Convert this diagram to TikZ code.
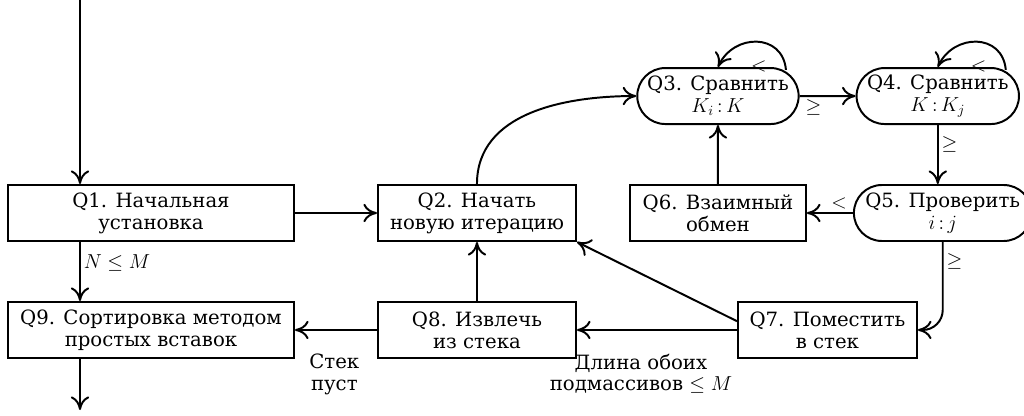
\documentclass[tikz,border=0pt]{standalone}
\usepackage{fontspec}
\setmainfont{DejaVu Serif}
\usetikzlibrary{arrows.meta, positioning, shapes.misc}

\begin{document}
\begin{tikzpicture}[
        font=\fontsize{14}{15.5}\selectfont,
        block/.style={rectangle, draw, line width=1.4pt, minimum height=1.4cm, align=center, inner sep=2pt},
        check/.style={rounded rectangle, draw, line width=1.4pt, minimum height=1.4cm, align=center, inner sep=2pt},
        lbl/.style={align=center, inner sep=2pt},
        arr/.style={-{Computer Modern Rightarrow[length=3.4mm, width=4.6mm]}, line width=1.4pt}
    ]
        \useasboundingbox (0,0) rectangle (25.6,-10.4);

        % Blocs
        \node[block, minimum width=7.15cm] (q1) at (3.775,-5.325) {Q1. Начальная\\установка};
        \node[block, minimum width=4.95cm, right=2.05cm of q1] (q2) {Q2. Начать\\новую итерацию};
        \node[block, minimum width=4.4cm, right=1.3cm of q2] (q6) {Q6. Взаимный\\обмен};
        \node[check, minimum width=4.35cm, right=1.15cm of q6] (q5) {Q5. Проверить\\$i\,{:}\,j$};
        \node[check, minimum width=4.175cm, above=1.475cm of q6] (q3) {Q3. Сравнить\\$K_i\,{:}\,K$};
        \node[check, minimum width=4.2cm, right=1.4cm of q3] (q4) {Q4. Сравнить\\$K\,{:}\,K_j$};
        \node[block, minimum width=7.15cm, below=1.475cm of q1] (q9) {Q9. Сортировка методом\\простых вставок};
        \node[block, minimum width=4.95cm, below=1.475cm of q2] (q8) {Q8. Извлечь\\из стека};
        \node[block, minimum width=4.475cm, right=4cm of q8] (q7) {Q7. Поместить\\в стек};

        % Entree et sortie
        \coordinate (start) at (2,0);
        \coordinate (stop) at (2,-10.25);

        % Liens
        \draw[arr] (start) -- (start |- q1.north);
        \draw[arr] (q1) -- (q2);
        \draw[arr] (start |- q1.south) -- node[lbl, pos=0.35, right] (lnm) {$N\le M$} (start |- q9.north);
        \draw[arr] (start |- q9.south) -- (stop);
        \draw[arr] (q2.north) to[out=90, in=180] (q3.west);
        \draw[arr] (q3) -- node[lbl, pos=0.25, below] (lge3) {$\geq$} (q4);
        \draw[arr] ([xshift=1.7cm, yshift=-2pt]q3.north) to[out=95, in=65, looseness=1.4] (q3.north);
        \node[lbl, above right=-0.2cm and 0.75cm of q3.north] (llt3) {$<$};
        \draw[arr] ([xshift=1.7cm, yshift=-2pt]q4.north) to[out=95, in=65, looseness=1.4] (q4.north);
        \node[lbl, above right=-0.2cm and 0.75cm of q4.north] (llt4) {$<$};
        \draw[arr] (q4.south) -- node[lbl, pos=0.33, right] (lge4) {$\geq$} (q4.south |- q5.north);
        \draw[arr] (q5) -- node[lbl, pos=0.3, above] (llt5) {$<$} (q6);
        \draw[arr] (q6) -- (q3);
        \draw[arr, rounded corners=0.5cm] (q5.south) |- node[lbl, pos=0.11, right] (lge5) {$\geq$} (q7.east);
        \draw[arr] (q7) -- node[lbl, pos=0.6, below=0.5cm] (llen) {Длина обоих\\подмассивов $\le M$} (q8);
        \draw[arr] ([yshift=0.22cm]q7.west) -- (q2.south east);
        \draw[arr] (q8) -- (q2);
        \draw[arr] (q8) -- node[lbl, pos=0.52, below=0.5cm] (lempty) {Стек\\пуст} (q9);
    \end{tikzpicture}
\end{document}
